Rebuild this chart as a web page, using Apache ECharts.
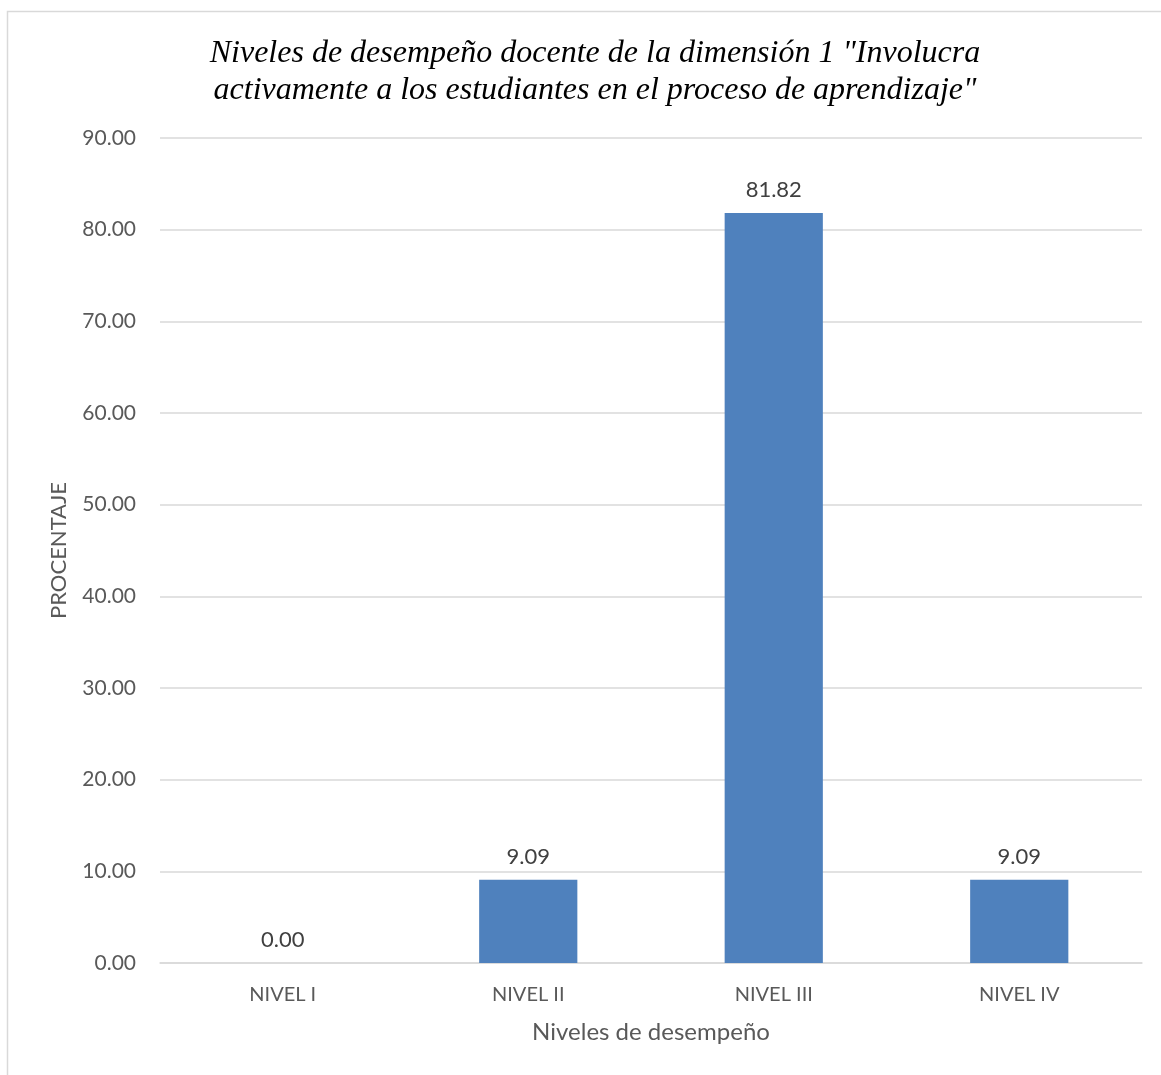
<!DOCTYPE html>
<html>
<head>
<meta charset="utf-8">
<script src="https://cdn.jsdelivr.net/npm/echarts@6/dist/echarts.min.js"></script>
<style>
  html, body { margin: 0; padding: 0; background: #fff; }
  #chart { width: 1161px; height: 1075px; }
</style>
</head>
<body>
<div id="chart"></div>
<script>
// Performance levels and their percentages
const categories = ['NIVEL I', 'NIVEL II', 'NIVEL III', 'NIVEL IV'];
const percentages = [0.00, 9.09, 81.82, 9.09];
const yTicks = { min: 0, max: 90, interval: 10 };

const labelFont = 'Lato, "Open Sans", sans-serif';

const chart = echarts.init(document.getElementById('chart'));
chart.setOption({
  animation: false,
  backgroundColor: '#ffffff',
  title: {
    text: 'Niveles de desempeño docente de la dimensión 1 "Involucra\nactivamente a los estudiantes en el proceso de aprendizaje"',
    left: 590,
    top: 30,
    textAlign: 'center',
    textStyle: {
      fontFamily: '"Liberation Serif", "Times New Roman", serif',
      fontStyle: 'italic',
      fontWeight: 'normal',
      fontSize: 32,
      lineHeight: 37,
      color: '#000000'
    }
  },
  graphic: [{
    type: 'rect',
    shape: { x: 7.5, y: 11.5, width: 1160, height: 1080 },
    style: { fill: 'none', stroke: '#d9d9d9', lineWidth: 1.5 },
    silent: true
  }],
  grid: { left: 160, right: 19, top: 138, bottom: 112, containLabel: false },
  xAxis: {
    type: 'category',
    data: categories,
    name: 'Niveles de desempeño',
    nameLocation: 'middle',
    nameGap: 57,
    nameTextStyle: { fontFamily: labelFont, fontSize: 24, color: '#595959' },
    axisLine: { show: true, lineStyle: { color: '#d9d9d9', width: 1.5 } },
    axisTick: { show: false },
    axisLabel: { fontFamily: labelFont, fontSize: 20, color: '#595959', margin: 22 }
  },
  yAxis: {
    type: 'value',
    min: yTicks.min,
    max: yTicks.max,
    interval: yTicks.interval,
    name: 'PROCENTAJE',
    nameLocation: 'middle',
    nameGap: 90,
    nameRotate: 90,
    nameTextStyle: { fontFamily: labelFont, fontSize: 22, color: '#595959' },
    axisLine: { show: false },
    axisTick: { show: false },
    splitLine: { lineStyle: { color: '#d9d9d9', width: 1.5 } },
    axisLabel: {
      fontFamily: labelFont, fontSize: 21, color: '#595959', margin: 24,
      formatter: v => v.toFixed(2)
    }
  },
  series: [{
    type: 'bar',
    data: percentages,
    barWidth: '40%',
    itemStyle: { color: '#4f81bd' },
    label: {
      show: true,
      position: 'top',
      distance: 12,
      fontFamily: labelFont,
      fontSize: 22,
      color: '#404040',
      formatter: p => p.value.toFixed(2)
    }
  }]
});
</script>
</body>
</html>
